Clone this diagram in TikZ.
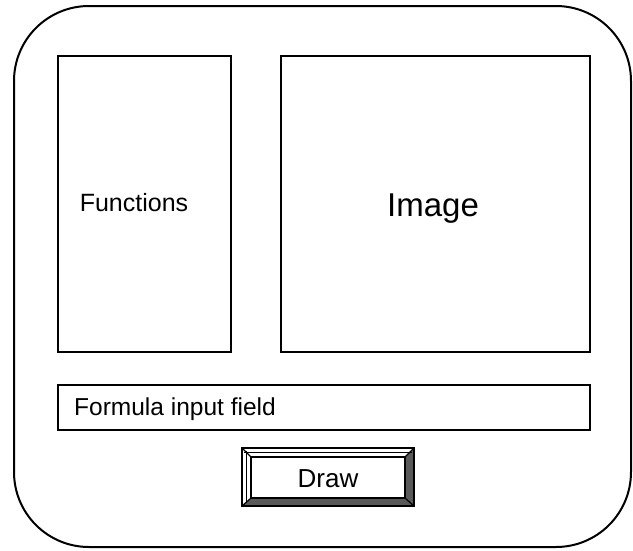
\documentclass[tikz,border=0pt]{standalone}
\usepackage{fontspec}
\setmainfont{Liberation Sans}
\begin{document}
\begin{tikzpicture}[x=1pt,y=-1pt,
  frame/.style={draw=black,line width=2pt},
  panel/.style={draw=black,line width=2pt,inner sep=0pt},
  label/.style={font=\fontsize{25}{30}\selectfont,inner sep=0pt,anchor=base},
  bevel/.style={draw=black,line width=1.2pt}]
\useasboundingbox (0,0) rectangle (633,550);
% window frame
\draw[frame,rounded corners=75pt] (14,6) rectangle (631,547);
% function list and image area
\draw[panel] (58,56) rectangle (231,352);
\node[label] (funcs) at (134,211) {Functions};
\draw[panel] (281,56) rectangle (590,352);
\node[label,font=\fontsize{33}{40}\selectfont] (img) at (433,216) {Image};
% formula input
\draw[panel] (58,385) rectangle (590,430);
\node[label,anchor=base west,font=\fontsize{24.5}{29}\selectfont] (formula) at (74,415) {Formula input field};
% draw button with bevelled edge
\coordinate (o1) at (242,448); \coordinate (o2) at (414,448);
\coordinate (o3) at (414,506); \coordinate (o4) at (242,506);
\coordinate (i1) at (251,457); \coordinate (i2) at (405,457);
\coordinate (i3) at (405,498); \coordinate (i4) at (251,498);
\fill[black!65] (o2) -- (o3) -- (i3) -- (i2) -- cycle;
\fill[black!65] (o3) -- (o4) -- (i4) -- (i3) -- cycle;
\draw[bevel] (o1) -- (o2) -- (o3) -- (o4) -- cycle;
\draw[bevel] (i1) -- (i2) -- (i3) -- (i4) -- cycle;
\draw[bevel] (o1) -- (i1) (o2) -- (i2) (o3) -- (i3) (o4) -- (i4);
\draw[black,line width=1pt] (244,452) -- (412,452);
\draw[black,line width=1pt] (246,451) -- (246,503);
\node[label,font=\fontsize{26}{31}\selectfont] (btn) at (328,487) {Draw};
\end{tikzpicture}
\end{document}
